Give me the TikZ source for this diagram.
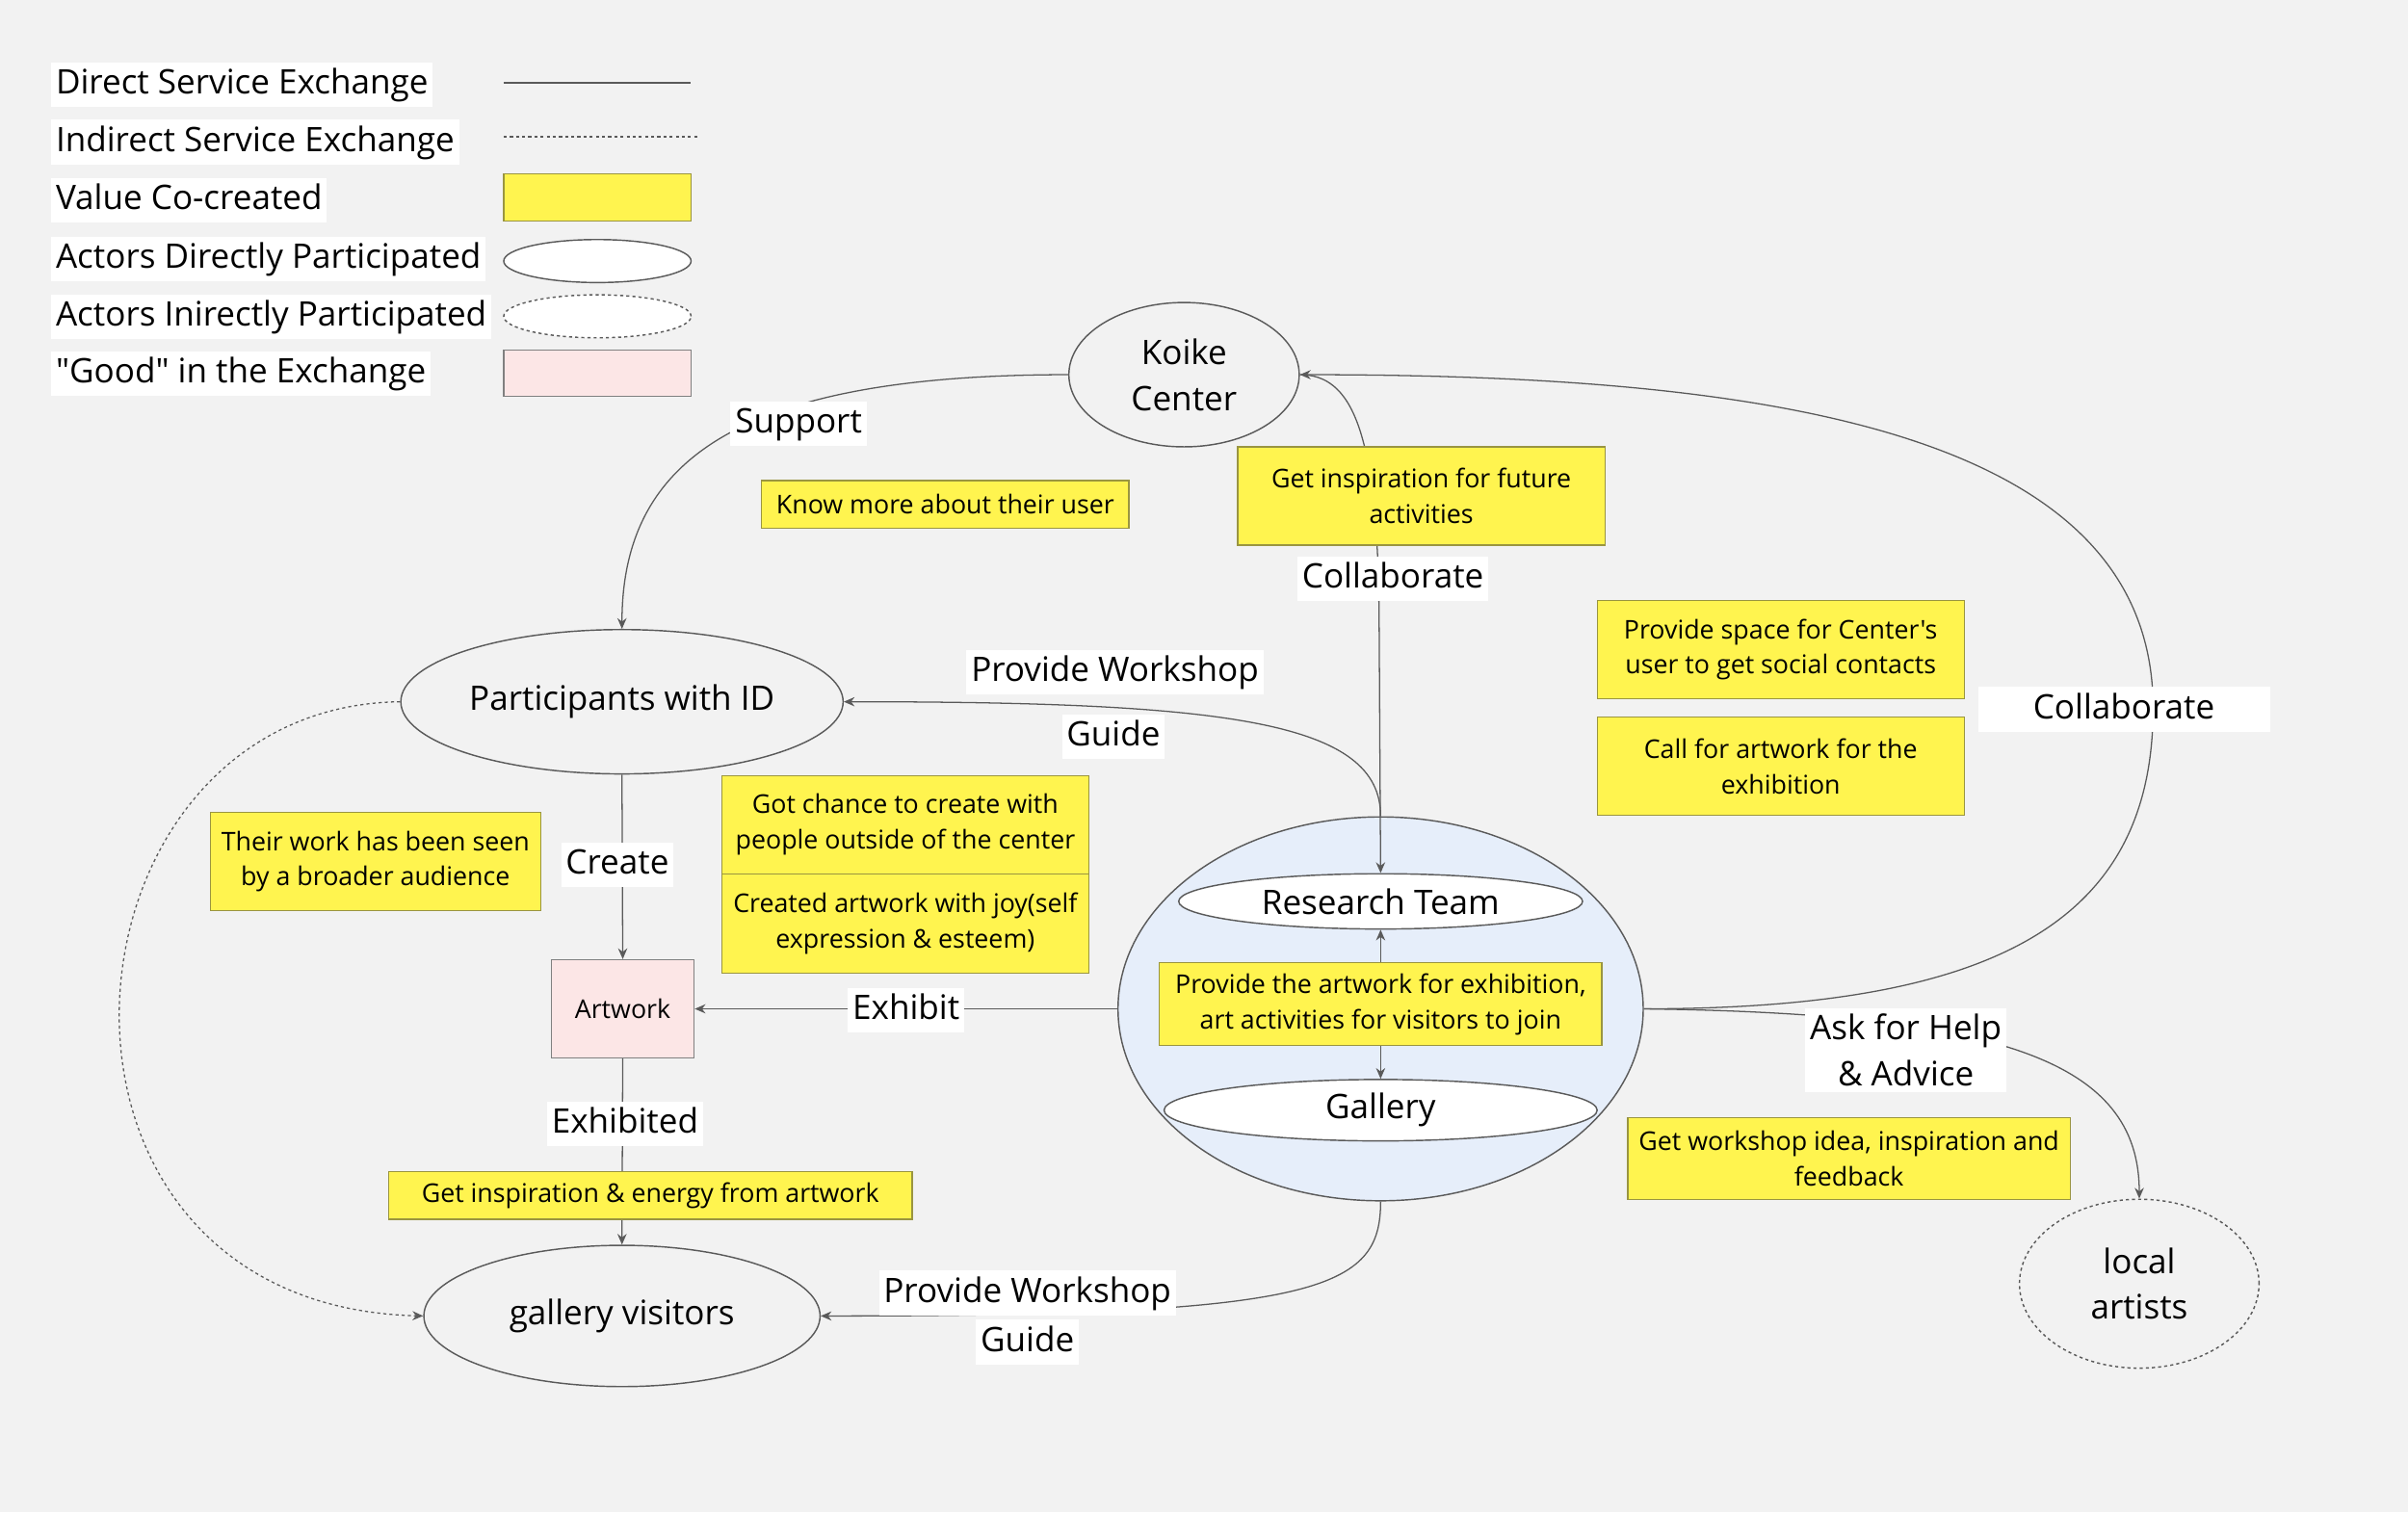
\documentclass[tikz,border=0pt]{standalone}
\usepackage{fontspec}
\setmainfont{Open Sans}[Ligatures=TeXOff]
\usetikzlibrary{shapes.geometric,arrows.meta}
\definecolor{bgcol}{HTML}{F2F2F2}
\definecolor{valyellow}{HTML}{FFF44F}
\definecolor{valborder}{HTML}{9A9540}
\definecolor{goodpink}{HTML}{FCE6E6}
\definecolor{hubblue}{HTML}{E6EEFA}
\definecolor{edgegray}{HTML}{5A5A5A}
\newcommand\lbfont{\fontsize{11}{15}\selectfont}
\newcommand\smfont{\fontsize{8.4}{11.5}\selectfont}
\pgfdeclarelayer{bottom}
\pgfdeclarelayer{edges}
\pgfsetlayers{bottom,edges,main}
\begin{document}
\begin{tikzpicture}[x=0.5pt, y=-0.5pt,
  lbl/.style={fill=white, inner xsep=1.5pt, inner ysep=1.75pt, font=\lbfont, text height=8.5pt, text depth=2.5pt},
  val/.style={fill=valyellow, draw=valborder, line width=0.4pt, font=\smfont, align=center, inner sep=0pt},
  good/.style={fill=goodpink, draw=gray, line width=0.4pt, font=\smfont, inner sep=0pt},
  actor/.style={ellipse, draw=edgegray, fill=bgcol, line width=0.45pt, inner sep=0pt, font=\lbfont},
  dotline/.style={dash pattern=on 1pt off 1pt},
  link/.style={draw=edgegray, line width=0.4pt},
  tip/.style={-{Stealth[length=3.5pt, width=3pt]}}]
\useasboundingbox (0,0) rectangle (1568,985);
\begin{pgfonlayer}{bottom}
\fill[bgcol] (0,0) rectangle (1568,985);
\node[ellipse, draw=edgegray, fill=hubblue, line width=0.45pt, minimum width=171pt, minimum height=125pt] (hub) at (899,657){};
\end{pgfonlayer}
\node[lbl, anchor=west] (lgDirect) at (33,55){Direct Service Exchange};
\node[lbl, anchor=west] (lgIndirect) at (33,92.5){Indirect Service Exchange};
\node[lbl, anchor=west] (lgValue) at (33,130.5){Value Co-created};
\node[lbl, anchor=west] (lgActD) at (33,168.5){Actors Directly Participated};
\node[lbl, anchor=west] (lgActI) at (33,206.5){Actors Inirectly Participated};
\node[lbl, anchor=west] (lgGood) at (33,243.5){"Good" in the Exchange};
\coordinate (lsA) at (328,54);
\coordinate (lsB) at (450,54);
\coordinate (ldA) at (328,89);
\coordinate (ldB) at (455,89);
\draw[link] (lsA) -- (lsB);
\draw[link, dotline] (ldA) -- (ldB);
\node[val, minimum width=61pt, minimum height=15.5pt] (lgValBox) at (389,128.5){};
\node[actor, fill=white, minimum width=61pt, minimum height=14pt] (lgActDBox) at (389,170){};
\node[actor, dotline, fill=white, minimum width=61pt, minimum height=14pt] (lgActIBox) at (389,206){};
\node[good, minimum width=61pt, minimum height=15pt] (lgGoodBox) at (389,243){};
\node[actor, minimum width=75pt, minimum height=47pt, align=center] (koike) at (771,244){Koike\\Center};
\node[actor, minimum width=144pt, minimum height=47pt] (partic) at (405,457){Participants with ID};
\node[actor, minimum width=129pt, minimum height=46pt] (visitors) at (405,857){gallery visitors};
\node[actor, dotline, minimum width=78pt, minimum height=55pt, align=center] (artists) at (1393,836){local\\artists};
\node[actor, fill=white, minimum width=131.5pt, minimum height=18pt] (research) at (899,587){Research Team};
\node[actor, fill=white, minimum width=141pt, minimum height=20pt] (gallery) at (899,723){Gallery};
\node[val, minimum width=144pt, minimum height=27pt] (vprovide) at (899,654){Provide the artwork for exhibition,\\art activities for visitors to join};
\node[good, minimum width=46.5pt, minimum height=32pt] (artwork) at (405.5,657){Artwork};
\node[val, minimum width=119.5pt, minimum height=15.5pt] (vknow) at (615.5,328.5){Know more about their user};
\node[val, minimum width=119.5pt, minimum height=32pt] (vfuture) at (925.5,323){Get inspiration for future\\activities};
\node[val, minimum width=119.5pt, minimum height=32pt] (vspace) at (1159.5,423){Provide space for Center's\\user to get social contacts};
\node[val, minimum width=119.5pt, minimum height=32pt] (vcall) at (1159.5,499){Call for artwork for the\\exhibition};
\node[val, minimum width=107.5pt, minimum height=32pt] (vseen) at (244.5,561){Their work has been seen\\by a broader audience};
\node[val, minimum width=119.5pt, minimum height=32pt] (vchance) at (589.5,537){Got chance to create with\\people outside of the center};
\node[val, minimum width=119.5pt, minimum height=32.5pt] (vjoy) at (589.5,601.5){Created artwork with joy(self\\expression \& esteem)};
\node[val, minimum width=170.5pt, minimum height=15.5pt] (venergy) at (423.5,778.5){Get inspiration \& energy from artwork};
\node[val, minimum width=144pt, minimum height=26.5pt] (videa) at (1204,754.5){Get workshop idea, inspiration and\\feedback};
\node[lbl] (lsupport) at (520,276){Support};
\node[lbl] (lcollabT) at (907,377){Collaborate};
\node[lbl] (lprovT) at (726,438){Provide Workshop};
\node[lbl] (lguideT) at (725,480){Guide};
\node[lbl, minimum width=95pt] (lcollabR) at (1383,462){Collaborate};
\node[lbl] (lcreate) at (402,563){Create};
\node[lbl] (lexhibit) at (590,658){Exhibit};
\node[lbl] (lexhibited) at (407,732){Exhibited};
\node[lbl, align=center, text height=, text depth=, inner ysep=2pt] (lask) at (1241,684){Ask for Help\\\& Advice};
\node[lbl] (lprovB) at (669,842){Provide Workshop};
\node[lbl] (lguideB) at (669,874){Guide};
\coordinate (cR) at (1402,461);
\coordinate (cT) at (898,400);
\begin{pgfonlayer}{edges}
\draw[link, tip] (koike.west) .. controls (480,244) and (405,300) .. (partic.north);
\draw[link, tip] (koike.east) .. controls (880,244) and (897,280) .. (cT) -- (research.north);
\draw[link, tip] (hub.east) .. controls (1300,657) and (1402,600) .. (cR) .. controls (1402,280) and (1150,244) .. (koike.east);
\draw[link, tip] (hub.east) .. controls (1300,660) and (1393,690) .. (artists.north);
\draw[link, tip] (hub.north) .. controls (899,470) and (800,457) .. (partic.east);
\draw[link, tip] (partic.south) -- (artwork.north);
\draw[link, tip] (hub.west) -- (artwork.east);
\draw[link, tip] (artwork.south) -- (visitors.north);
\draw[link, tip] (hub.south) .. controls (899,840) and (860,857) .. (visitors.east);
\draw[link, dotline, tip] (partic.west) .. controls (30,460) and (0,850) .. (visitors.west);
\draw[link, tip] (vprovide.north) -- (research.south);
\draw[link, tip] (vprovide.south) -- (gallery.north);
\end{pgfonlayer}
\end{tikzpicture}
\end{document}
